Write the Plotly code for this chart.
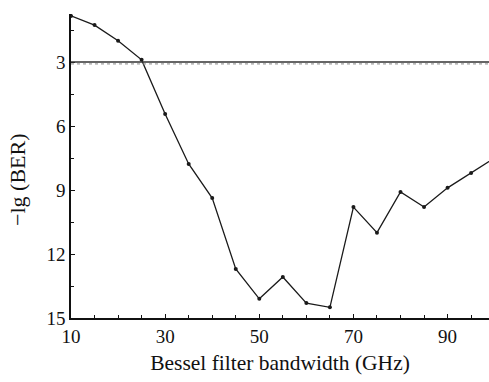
import plotly.graph_objects as go

# Bessel filter bandwidth (GHz) and corresponding -lg(BER)
bandwidth = [10, 15, 20, 25, 30, 35, 40, 45, 50, 55, 60, 65, 70, 75, 80, 85, 90, 95, 100]
neg_lg_ber = [0.84, 1.27, 2.0, 2.9, 5.44, 7.78, 9.38, 12.7, 14.1, 13.08, 14.3, 14.5,
              9.8, 11.0, 9.09, 9.8, 8.9, 8.2, 7.5]

threshold = 3
x_ticks = [10, 30, 50, 70, 90]
y_ticks = [3, 6, 9, 12, 15]

font_family = "Liberation Serif, Times New Roman, serif"

fig = go.Figure()

fig.add_trace(go.Scatter(
    x=bandwidth, y=neg_lg_ber,
    mode="lines+markers",
    line=dict(color="#1a1a1a", width=1.3),
    marker=dict(color="#1a1a1a", size=4),
    showlegend=False,
))

# BER threshold line (solid with dotted companion)
fig.add_shape(type="line", xref="paper", x0=0, x1=1, yref="y", y0=threshold, y1=threshold,
              line=dict(color="#333333", width=1.6))
fig.add_shape(type="line", xref="paper", x0=0, x1=1, yref="y", y0=threshold + 0.09, y1=threshold + 0.09,
              line=dict(color="#888888", width=1, dash="dot"))

axis_common = dict(
    showgrid=False, zeroline=False,
    showline=True, linecolor="#111111", linewidth=1.5,
    ticks="inside", ticklen=4, tickcolor="#111111", tickwidth=1,
    tickfont=dict(family=font_family, size=19, color="#111111"),
)

fig.update_xaxes(
    range=[10, 98.8], tickvals=x_ticks,
    minor=dict(dtick=5, tick0=10, ticks="inside", ticklen=3, tickcolor="#111111"),
    title=dict(text="Bessel filter bandwidth (GHz)", font=dict(family=font_family, size=21.5, color="#111111"),
               standoff=9),
    **axis_common,
)
fig.update_yaxes(
    range=[15, 0.75], tickvals=y_ticks,
    minor=dict(dtick=1.5, tick0=0, ticks="inside", ticklen=3, tickcolor="#111111"),
    **axis_common,
)

# Y-axis title placed as a rotated annotation
fig.add_annotation(
    text="\u2212lg (BER)", textangle=-90,
    xref="paper", yref="paper", x=-0.127, y=0.454,
    xanchor="center", yanchor="middle", showarrow=False,
    font=dict(family=font_family, size=22, color="#111111"),
)

fig.update_layout(
    width=489, height=382,
    margin=dict(l=71, r=0, t=14, b=64),
    paper_bgcolor="white", plot_bgcolor="white",
    font=dict(family=font_family),
)

fig.write_html("out.html")
